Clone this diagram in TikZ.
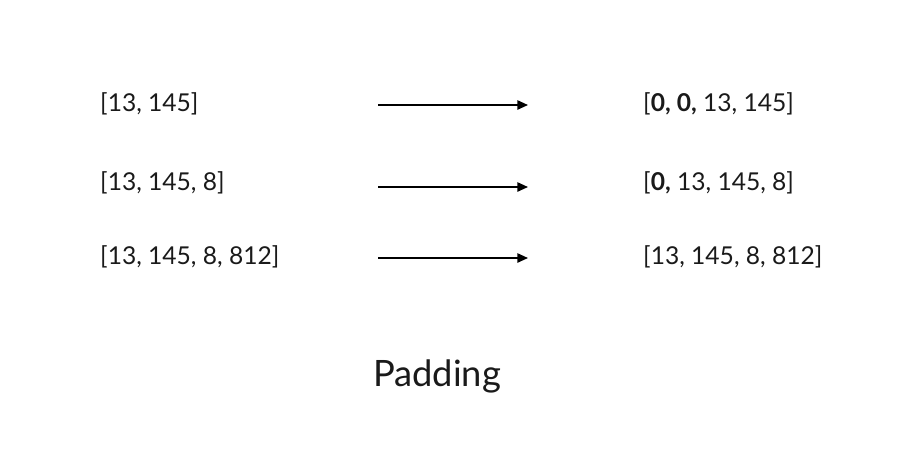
\documentclass[tikz,border=0pt]{standalone}
\usepackage{fontspec}
\setmainfont{Lato}
\usetikzlibrary{arrows.meta}
\definecolor{padtext}{HTML}{1a1a1a}

\begin{document}
\begin{tikzpicture}[x=0.03cm,y=-0.03cm,
  seq/.style={anchor=west,inner sep=0pt,text=padtext,font=\fontsize{21}{25}\selectfont},
  pad/.style={-{Triangle[length=0.32cm,width=0.28cm]},line width=0.05cm}]
  \useasboundingbox (0,0) rectangle (900,472);
  \node[seq] (in1) at (100,104) {[13, 145]};
  \node[seq] (in2) at (100,183) {[13, 145, 8]};
  \node[seq] (in3) at (100,257) {[13, 145, 8, 812]};
  \node[seq] (out1) at (643,104) {[\textbf{0, 0,} 13, 145]};
  \node[seq] (out2) at (643,183) {[\textbf{0,} 13, 145, 8]};
  \node[seq] (out3) at (643,257) {[13, 145, 8, 812]};
  \coordinate (a1) at (378,105); \coordinate (b1) at (528,105);
  \coordinate (a2) at (378,187); \coordinate (b2) at (528,187);
  \coordinate (a3) at (378,258); \coordinate (b3) at (528,258);
  \foreach \i in {1,2,3}
    \draw[pad] (a\i) -- (b\i);
  \node[text=padtext,font=\fontsize{31}{36}\selectfont] (title) at (437,376) {Padding};
\end{tikzpicture}
\end{document}
